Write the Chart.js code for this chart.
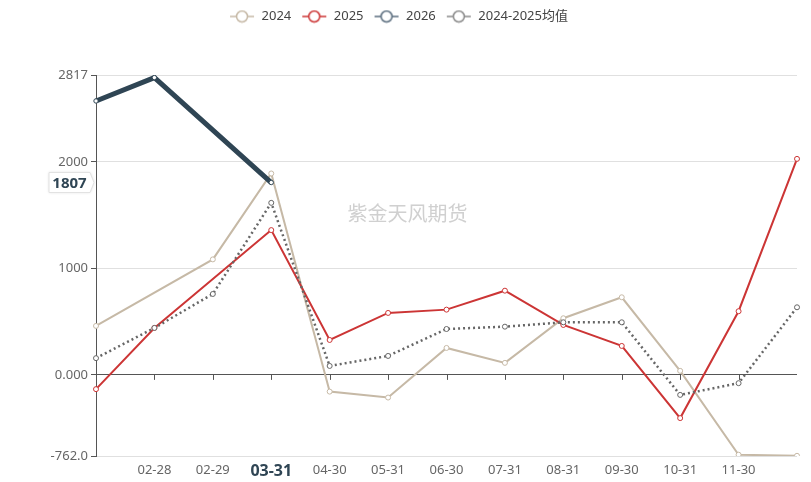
<!DOCTYPE html>
<html>
<head>
<meta charset="utf-8">
<script src="https://cdn.jsdelivr.net/npm/chart.js@4.4.1/dist/chart.umd.min.js"></script>
<style>
  html, body { margin: 0; padding: 0; background: #fff; }
  #wrap { width: 811px; height: 482px; position: relative; }
</style>
</head>
<body>
<div id="wrap"><canvas id="chart"></canvas></div>
<script>
// 日期（月-日），首尾两个标签在原图中不显示
const categories = ['01-31', '02-28', '02-29', '03-31', '04-30', '05-31', '06-30', '07-31', '08-31', '09-30', '10-31', '11-30', '12-31'];

const values2024 = [460, null, 1085, 1892, -157, -213, 253, 113, 532, 729, 38, -750, -760];
const values2025 = [-134, 441, null, 1360, 328, 582, 613, 791, 469, 272, -406, 598, 2029];
const values2026 = [2573, 2793, null, 1807, null, null, null, null, null, null, null, null, null];
const valuesAvg = [157, 441, 760, 1616, 84, 178, 431, 453, 494, 494, -188, -78, 635];

const yTicks = [-762, 0, 1000, 2000, 2817];
const yTickLabels = ['-762.0', '0.000', '1000', '2000', '2817'];

const seriesNames = ['2024', '2025', '2026', '2024-2025均值'];
const HIGHLIGHT_INDEX = 3; // 03-31 悬停位置
const WATERMARK = '紫金天风期货';

const FONT = '"Noto Sans", "Noto Sans CJK SC", sans-serif';

// 图例图标：线段 + 空心圆
function legendIcon(color) {
    const c = document.createElement('canvas');
    c.width = 26; c.height = 14;
    const g = c.getContext('2d');
    g.strokeStyle = color;
    g.lineWidth = 1.5;
    g.beginPath(); g.moveTo(1, 7); g.lineTo(25, 7); g.stroke();
    g.fillStyle = '#fff';
    g.beginPath(); g.arc(13, 7, 5.5, 0, Math.PI * 2); g.fill(); g.stroke();
    return c;
}

const refOverlay = {
    id: 'refOverlay',
    afterInit(chart) {
        // 固定图例高度，使绘图区顶部与原图一致
        const lg = chart.legend;
        const origFit = lg.fit.bind(lg);
        lg.fit = function () { origFit(); this.height = 75; };
    },
    beforeDatasetsDraw(chart) {
        const { ctx, scales } = chart;
        const y0 = scales.y.getPixelForValue(0);
        ctx.save();
        // 水印（以画布为中心）
        ctx.fillStyle = '#d0d0d0';
        ctx.font = '20px "Noto Sans CJK SC", sans-serif';
        ctx.textAlign = 'center';
        ctx.textBaseline = 'middle';
        ctx.fillText(WATERMARK, chart.width / 2 + 2, 213);
        // 零轴刻度
        ctx.strokeStyle = '#555';
        ctx.lineWidth = 1;
        ctx.beginPath();
        for (let i = 1; i < categories.length - 1; i++) {
            const x = Math.round(scales.x.getPixelForValue(i)) + 0.5;
            ctx.moveTo(x, y0);
            ctx.lineTo(x, y0 + 5);
        }
        ctx.stroke();
        ctx.restore();
    },
    afterDraw(chart) {
        const { ctx, scales } = chart;
        const v = values2026[HIGHLIGHT_INDEX];
        const y = scales.y.getPixelForValue(v);
        const x1 = 49, x2 = 90, h = 20;
        ctx.save();
        ctx.shadowColor = 'rgba(0,0,0,0.15)';
        ctx.shadowBlur = 3;
        ctx.fillStyle = '#fff';
        ctx.strokeStyle = '#e2e2e2';
        ctx.lineWidth = 1;
        ctx.beginPath();
        ctx.moveTo(x1, y - h / 2);
        ctx.lineTo(x2, y - h / 2);
        ctx.lineTo(x2 + 4, y);
        ctx.lineTo(x2, y + h / 2);
        ctx.lineTo(x1, y + h / 2);
        ctx.closePath();
        ctx.fill();
        ctx.shadowBlur = 0;
        ctx.stroke();
        ctx.fillStyle = '#2f4554';
        ctx.font = 'bold 15px ' + FONT;
        ctx.textAlign = 'center';
        ctx.textBaseline = 'middle';
        ctx.fillText(String(v), (x1 + x2) / 2, y + 1);
        ctx.restore();
    }
};

const colors = ['#c6b9a6', '#cc3535', '#2f4554', '#666666'];
const legendColors = ['#c6b9a6', '#cc3535', '#5a6d7e', '#8a8a8a'];

function lineDataset(label, data, color, width, extra) {
    return Object.assign({
        label: label,
        data: data,
        borderColor: color,
        backgroundColor: color,
        borderWidth: width,
        pointRadius: 2.5,
        pointBorderWidth: 1,
        pointBackgroundColor: '#fff',
        pointBorderColor: color,
        tension: 0,
        spanGaps: true,
        fill: false
    }, extra || {});
}

const datasets = [
    lineDataset(seriesNames[0], values2024, colors[0], 2),
    lineDataset(seriesNames[1], values2025, colors[1], 2),
    lineDataset(seriesNames[2], values2026, colors[2], 5, { pointRadius: 2.2, pointBorderColor: '#2f4554' }),
    lineDataset(seriesNames[3], valuesAvg, colors[3], 2.5, { borderDash: [2, 3] })
];
// 绘制顺序：均值在下，2026 在最上
datasets[0].order = 3;
datasets[1].order = 2;
datasets[2].order = 0;
datasets[3].order = 1;

new Chart(document.getElementById('chart'), {
    type: 'line',
    data: { labels: categories, datasets: datasets },
    options: {
        responsive: true,
        maintainAspectRatio: false,
        animation: false,
        events: [],
        layout: { padding: { left: 0, right: 14, top: 0, bottom: 0 } },
        plugins: {
            tooltip: { enabled: false },
            legend: {
                position: 'top',
                labels: {
                    usePointStyle: true,
                    pointStyleWidth: 26,
                    padding: 10,
                    color: '#444',
                    font: { family: FONT, size: 13 },
                    generateLabels(chart) {
                        return chart.data.datasets.map((ds, i) => ({
                            text: ds.label,
                            pointStyle: legendIcon(legendColors[i]),
                            fillStyle: legendColors[i],
                            strokeStyle: legendColors[i],
                            fontColor: '#444',
                            lineWidth: 0,
                            hidden: false,
                            datasetIndex: i
                        }));
                    }
                }
            }
        },
        scales: {
            x: {
                offset: false,
                grid: { display: false, drawTicks: false },
                border: { display: false },
                afterFit(scale) { scale.height = 26; },
                ticks: {
                    autoSkip: false,
                    maxRotation: 0,
                    padding: 6,
                    color: ctx => ctx.index === HIGHLIGHT_INDEX ? '#2f4554' : '#666',
                    font: ctx => ctx.index === HIGHLIGHT_INDEX
                        ? { family: FONT, size: 16, weight: 'bold' }
                        : { family: FONT, size: 13 },
                    callback: (v, i) => (i === 0 || i === categories.length - 1) ? '' : categories[i]
                }
            },
            y: {
                min: yTicks[0],
                max: yTicks[yTicks.length - 1],
                afterFit(scale) { scale.width = 96; },
                afterBuildTicks(scale) { scale.ticks = yTicks.map(v => ({ value: v })); },
                border: { display: true, color: '#555', width: 1 },
                grid: {
                    color: ctx => (ctx.tick && ctx.tick.value === 0) ? '#555' : '#e0e0e0',
                    tickColor: '#555',
                    tickLength: 5,
                    lineWidth: 1
                },
                ticks: {
                    padding: 3,
                    color: '#666',
                    font: { family: FONT, size: 13 },
                    callback: (v, i) => yTickLabels[i]
                }
            }
        }
    },
    plugins: [refOverlay]
});
</script>
</body>
</html>
